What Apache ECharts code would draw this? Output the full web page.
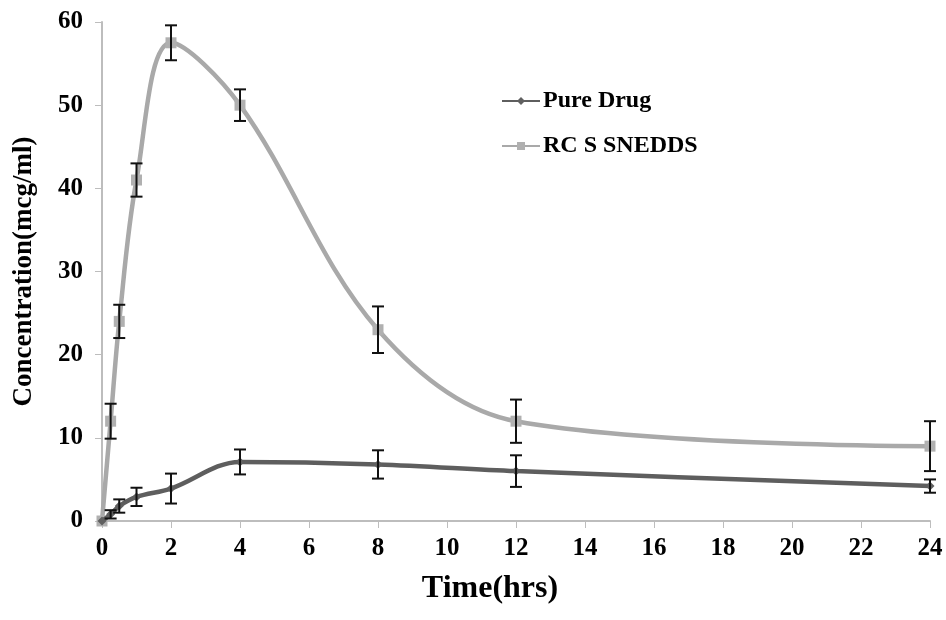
<!DOCTYPE html>
<html>
<head>
<meta charset="utf-8">
<script src="https://cdn.jsdelivr.net/npm/echarts@6/dist/echarts.min.js"></script>
<style>
  html, body { margin: 0; padding: 0; background: #fff; }
  #chart { width: 946px; height: 620px; }
</style>
</head>
<body>
<div id="chart"></div>
<script>
// time points (hrs)
const timePoints = [0, 0.25, 0.5, 1, 2, 4, 8, 12, 24]

// Pure Drug
const pureDrug = [0, 0.8, 1.8, 2.9, 3.9, 7.1, 6.8, 6.0, 4.2]
const pureDrugErr = [0, 0.5, 0.8, 1.1, 1.8, 1.5, 1.7, 1.9, 0.8]

// RC S SNEDDS
const rcSnedds = [0, 12, 24, 41, 57.5, 50, 23, 12, 9]
const rcSneddsErr = [0, 2.1, 2, 2, 2.1, 1.9, 2.8, 2.6, 3]

const seriesNames = ['Pure Drug', 'RC S SNEDDS']

const FONT = '"Liberation Serif", "Times New Roman", serif'

const toPairs = (vals) => timePoints.map((t, i) => [t, vals[i]])
const toErrRows = (vals, errs) =>
  timePoints.map((t, i) => [t, vals[i] - errs[i], vals[i] + errs[i]]).filter((r, i) => errs[i] > 0)

// 误差线：竖线 + 上下端帽
const renderErrorBar = (params, api) => {
  const x = api.value(0)
  const low = api.coord([x, api.value(1)])
  const high = api.coord([x, api.value(2)])
  const half = 6
  const style = { stroke: '#111', lineWidth: 2 }
  return {
    type: 'group',
    children: [
      { type: 'line', shape: { x1: high[0], y1: high[1], x2: low[0], y2: low[1] }, style },
      { type: 'line', shape: { x1: high[0] - half, y1: high[1], x2: high[0] + half, y2: high[1] }, style },
      { type: 'line', shape: { x1: low[0] - half, y1: low[1], x2: low[0] + half, y2: low[1] }, style }
    ]
  }
}

const chart = echarts.init(document.getElementById('chart'))

const option = {
  backgroundColor: '#fff',
  animation: false,
  grid: {
    left: 102,
    right: 16,
    top: 22,
    bottom: 99
  },
  legend: {
    data: seriesNames,
    orient: 'vertical',
    left: 496,
    top: 84,
    itemWidth: 38,
    itemHeight: 10,
    itemGap: 21,
    textStyle: {
      fontFamily: FONT,
      fontWeight: 'bold',
      fontSize: 24,
      color: '#000',
      padding: [0, 0, 0, -2]
    }
  },
  xAxis: {
    type: 'value',
    min: 0,
    max: 24,
    interval: 2,
    name: 'Time(hrs)',
    nameLocation: 'middle',
    nameGap: 52,
    nameTextStyle: {
      fontFamily: FONT,
      fontWeight: 'bold',
      fontSize: 32,
      color: '#000',
      padding: [0, 52, 0, 0]
    },
    axisLine: { lineStyle: { color: '#bdbdbd', width: 2 } },
    axisTick: { show: true, length: 7, lineStyle: { color: '#bdbdbd', width: 1 } },
    axisLabel: {
      margin: 15,
      fontFamily: FONT,
      fontWeight: 'bold',
      fontSize: 25,
      color: '#000'
    },
    splitLine: { show: false }
  },
  yAxis: {
    type: 'value',
    min: 0,
    max: 60,
    interval: 10,
    name: 'Concentration(mcg/ml)',
    nameLocation: 'middle',
    nameGap: 64,
    nameTextStyle: {
      fontFamily: FONT,
      fontWeight: 'bold',
      fontSize: 27,
      color: '#000'
    },
    axisLine: { show: true, lineStyle: { color: '#bdbdbd', width: 2 } },
    axisTick: { show: true, length: 7, lineStyle: { color: '#bdbdbd', width: 1 } },
    axisLabel: {
      margin: 19,
      fontFamily: FONT,
      fontWeight: 'bold',
      fontSize: 25,
      color: '#000'
    },
    splitLine: { show: false }
  },
  series: [
    {
      name: 'Pure Drug',
      type: 'line',
      smooth: 0.35,
      data: toPairs(pureDrug),
      symbol: 'diamond',
      symbolSize: 9,
      itemStyle: { color: '#606060' },
      lineStyle: { color: '#5e5e5e', width: 4.5 },
      z: 3
    },
    {
      name: 'RC S SNEDDS',
      type: 'line',
      smooth: 0.35,
      data: toPairs(rcSnedds),
      symbol: 'rect',
      symbolSize: 11,
      itemStyle: { color: '#b0b0b0' },
      lineStyle: { color: '#a9a9a9', width: 4.5 },
      z: 2
    },
    {
      name: 'Pure Drug err',
      type: 'custom',
      renderItem: renderErrorBar,
      data: toErrRows(pureDrug, pureDrugErr),
      encode: { x: 0, y: [1, 2] },
      z: 5
    },
    {
      name: 'RC S SNEDDS err',
      type: 'custom',
      renderItem: renderErrorBar,
      data: toErrRows(rcSnedds, rcSneddsErr),
      encode: { x: 0, y: [1, 2] },
      z: 5
    }
  ]
}

chart.setOption(option)
</script>
</body>
</html>
